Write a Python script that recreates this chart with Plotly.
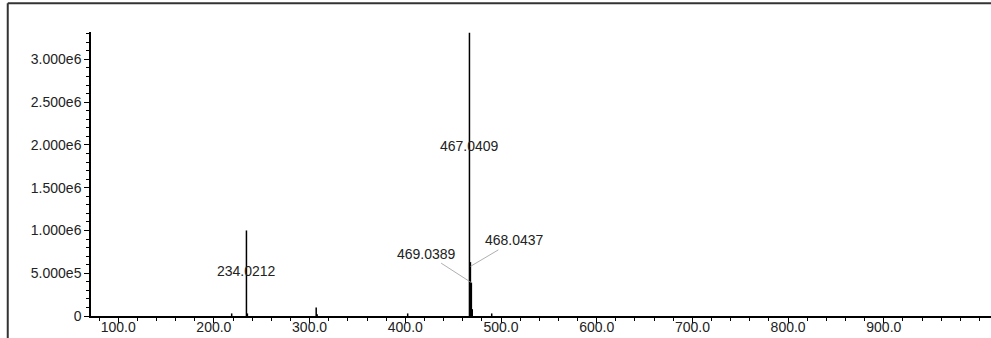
import plotly.graph_objects as go

# ---- data ----
peak_mz = [218.6, 234.0212, 235.0, 306.9, 307.9, 402.5, 467.0409, 468.0437, 469.0389, 470.0, 490.3]
peak_int = [0.03e6, 1.00e6, 0.03e6, 0.10e6, 0.02e6, 0.03e6, 3.31e6, 0.63e6, 0.39e6, 0.08e6, 0.03e6]

label_mz = [234.0212, 467.0409]
label_frac = [0.53, 0.60]          # label height as a fraction of the peak height

arrow_mz = [469.0389, 468.0437]
arrow_int = [0.39e6, 0.58e6]
arrow_ax = [-45, 44]
arrow_ay = [-29, -26]

x_tickvals = [100, 200, 300, 400, 500, 600, 700, 800, 900]
x_ticktext = ["100.0", "200.0", "300.0", "400.0", "500.0", "600.0", "700.0", "800.0", "900.0"]
y_tickvals = [0, 5e5, 1e6, 1.5e6, 2e6, 2.5e6, 3e6]
y_ticktext = ["0", "5.000e5", "1.000e6", "1.500e6", "2.000e6", "2.500e6", "3.000e6"]

# ---- sticks built from the data ----
xs, ys = [], []
for m, v in zip(peak_mz, peak_int):
    xs += [m, m, None]
    ys += [0, v, None]

FONT = "Liberation Sans, Arial, sans-serif"
TXT = "#222222"

fig = go.Figure()
fig.add_trace(go.Scatter(x=xs, y=ys, mode="lines",
                         line=dict(color="black", width=1.5),
                         hoverinfo="skip", showlegend=False))

annotations = []
int_of = dict(zip(peak_mz, peak_int))
for m, f in zip(label_mz, label_frac):
    annotations.append(dict(x=m, y=int_of[m] * f, xref="x", yref="y",
                            text=f"{m:.4f}", showarrow=False,
                            font=dict(family=FONT, size=14, color=TXT)))
for m, v, ax, ay in zip(arrow_mz, arrow_int, arrow_ax, arrow_ay):
    annotations.append(dict(x=m, y=v, xref="x", yref="y",
                            text=f"{m:.4f}", showarrow=True, arrowhead=0,
                            arrowwidth=0.8, arrowcolor="#9a9a9a", standoff=0,
                            ax=ax, ay=ay, axref="pixel", ayref="pixel",
                            font=dict(family=FONT, size=14, color=TXT)))

frame = dict(color="#333333", width=2)
fig.update_layout(
    width=991, height=338, autosize=False,
    margin=dict(l=91, r=0, t=32, b=22, pad=0),
    paper_bgcolor="white", plot_bgcolor="white",
    font=dict(family=FONT, size=14, color=TXT),
    annotations=annotations,
    shapes=[dict(type="line", xref="paper", yref="paper",
                 x0=-0.0925, x1=1.2, y0=1.101, y1=1.101, line=frame, layer="above"),
            dict(type="line", xref="paper", yref="paper",
                 x0=-0.0925, x1=-0.0925, y0=-0.2, y1=1.101, line=frame, layer="above")],
    xaxis=dict(range=[71.6, 1012], showgrid=False, zeroline=False, automargin=False,
               showline=True, linecolor="black", linewidth=1.5,
               ticks="outside", ticklen=5, tickwidth=1.2, tickcolor="black",
               tickmode="array", tickvals=x_tickvals, ticktext=x_ticktext,
               ticklabelstandoff=-8,
               tickfont=dict(family=FONT, size=14, color=TXT),
               minor=dict(ticks="outside", ticklen=3, tickwidth=1.2, tickcolor="black",
                          tickmode="array", tickvals=list(range(80, 1012, 20)))),
    yaxis=dict(range=[0, 3.32e6], showgrid=False, zeroline=False, automargin=False,
               showline=True, linecolor="black", linewidth=1.5,
               ticks="outside", ticklen=5, tickwidth=1.2, tickcolor="black",
               tickmode="array", tickvals=y_tickvals, ticktext=y_ticktext,
               tickfont=dict(family=FONT, size=14, color=TXT),
               minor=dict(ticks="outside", ticklen=3, tickwidth=1.2, tickcolor="black",
                          tickmode="array", tickvals=[i * 1e5 for i in range(0, 34)])),
)

fig.write_html("out.html", config={"displayModeBar": False},
               post_script="document.body.style.margin='0';document.body.style.overflow='hidden';")
